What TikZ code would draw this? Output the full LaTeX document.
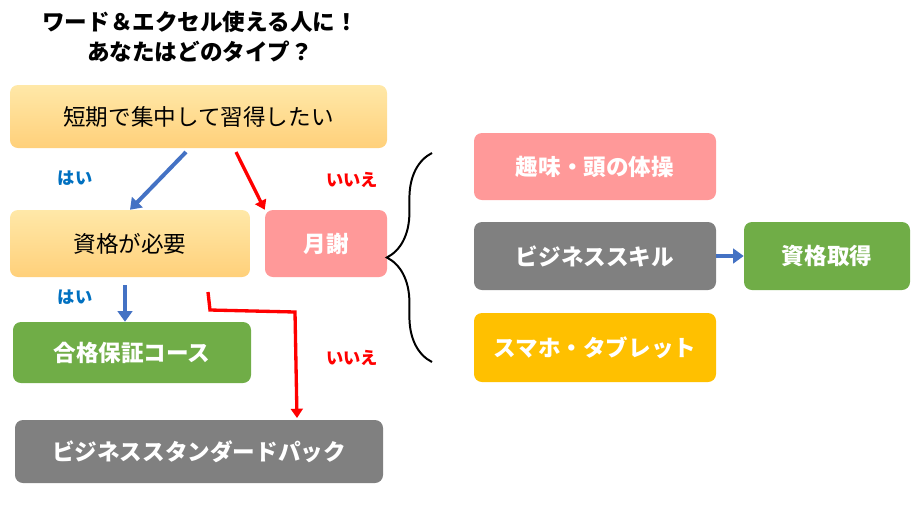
\documentclass[tikz,border=0pt]{standalone}
\usepackage{fontspec}
\setmainfont{Noto Sans CJK JP}
\usetikzlibrary{arrows.meta,decorations.pathreplacing}
\definecolor{pk}{HTML}{FF9999}
\definecolor{gn}{HTML}{70AD47}
\definecolor{gy}{HTML}{808080}
\definecolor{yl}{HTML}{FFC000}
\definecolor{bl}{HTML}{4472C4}
\definecolor{bt}{HTML}{0070C0}
\definecolor{og1}{HTML}{FFE8A8}
\definecolor{og2}{HTML}{FFD07A}
\tikzset{
 box/.style={rounded corners=6pt,inner sep=0pt,font=\fontsize{17}{20}\selectfont},
 fbox/.style={box,fill=#1,text=white,font=\fontsize{17}{20}\selectfont\bfseries},
 gbox/.style={box,top color=og1,bottom color=og2},
 ba/.style={draw=bl,line width=3pt,-{Triangle[length=8pt,width=11pt]}},
 ra/.style={draw=red,line width=2.5pt,-{Triangle[length=7pt,width=9pt]}},
 lb/.style={font=\fontsize{13}{15}\selectfont\bfseries}
}
\begin{document}
\begin{tikzpicture}[x=0.02646cm,y=-0.02646cm]
\useasboundingbox (0,0) rectangle (911,515);
\node[font=\fontsize{17}{20}\selectfont\bfseries] (t1) at (200,22) {ワード＆エクセル使える人に！};
\node[font=\fontsize{17}{20}\selectfont\bfseries] (t2) at (200,52) {あなたはどのタイプ？};
\node[gbox,minimum width=377*0.02646cm,minimum height=63*0.02646cm] (a) at (198.5,116.5) {短期で集中して習得したい};
\node[gbox,minimum width=240*0.02646cm,minimum height=67*0.02646cm] (b) at (130,243.5) {資格が必要};
\node[fbox=pk,minimum width=122*0.02646cm,minimum height=67*0.02646cm] (c) at (326,243.5) {月謝};
\node[fbox=gn,minimum width=238*0.02646cm,minimum height=61*0.02646cm] (d) at (132,352.5) {合格保証コース};
\node[fbox=gy,minimum width=368*0.02646cm,minimum height=63*0.02646cm] (e) at (199,451.5) {ビジネススタンダードパック};
\node[fbox=pk,minimum width=242*0.02646cm,minimum height=67*0.02646cm] (f) at (595,166.5) {趣味・頭の体操};
\node[fbox=gy,minimum width=242*0.02646cm,minimum height=68*0.02646cm] (g) at (595,256) {ビジネススキル};
\node[fbox=yl,minimum width=242*0.02646cm,minimum height=69*0.02646cm] (h) at (595,347.5) {スマホ・タブレット};
\node[fbox=gn,minimum width=166*0.02646cm,minimum height=68*0.02646cm] (k) at (827,256) {資格取得};
\node[lb,text=bt] (y1) at (75,178) {はい};
\node[lb,text=red] (n1) at (352,180) {いいえ};
\node[lb,text=bt] (y2) at (75,297) {はい};
\node[lb,text=red] (n2) at (352,358) {いいえ};
\coordinate (p1) at (186,152);
\coordinate (p2) at (236,152);
\coordinate (p3) at (125,285);
\coordinate (p4) at (208,292);
\coordinate (p5) at (297,418);
\draw[ba] (p1) -- (b.north);
\draw[ra] (p2) -- (c.north west);
\draw[ba] (p3) -- (d.north -| p3);
\draw[ra] (p4) -- (210,310) -- (295,312) -- (p5);
\draw[ba] (g.east) -- (k.west);
\draw[line width=1.5pt,decorate,decoration={brace,amplitude=34pt,aspect=0.5}] (432,362) -- (432,153);
\end{tikzpicture}
\end{document}
